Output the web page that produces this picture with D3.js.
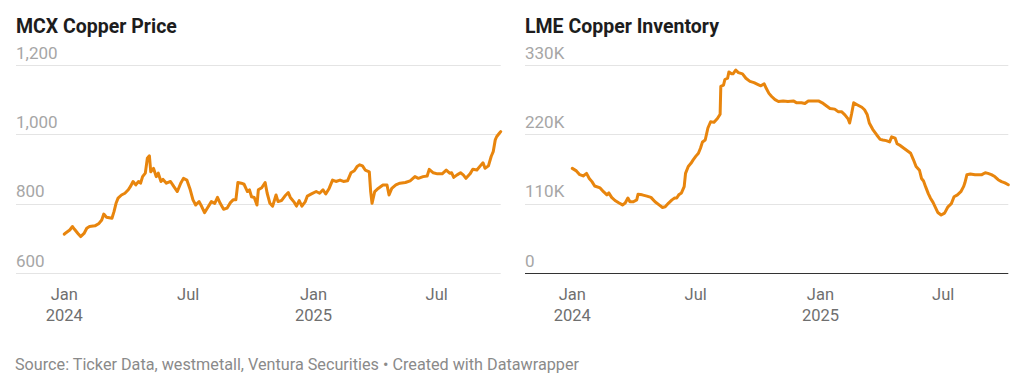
<!doctype html>
<html>
  <head>
    <meta charset="utf-8">
    <script src="https://cdnjs.cloudflare.com/ajax/libs/d3/7.8.5/d3.min.js"></script>
    <style>
      body { margin: 0; background: #fff; font-family: Roboto, "Noto Sans", sans-serif; }
      svg { display: block; }
      .title { font-weight: 700; font-size: 19.5px; fill: #1d1d1d; }
      .ylab { font-size: 17px; fill: #a6a6a6; }
      .xlab { font-size: 16.5px; fill: #6f6f6f; }
      .grid { stroke: #e4e4e4; stroke-width: 1; }
      .note { font-size: 16.2px; fill: #8a8a8a; }
    </style>
  </head>
  <body>
    <svg id="chart" width="1024" height="389"></svg>
    <script>
      // MCX copper price (Rs/kg)
      let mcxDates = ["2024-01-01","2024-01-02","2024-01-09","2024-01-13","2024-01-16","2024-01-21","2024-01-25","2024-01-30","2024-02-03","2024-02-07","2024-02-15","2024-02-21","2024-02-25","2024-02-28","2024-03-03","2024-03-11","2024-03-14","2024-03-17","2024-03-20","2024-03-25","2024-03-30","2024-04-04","2024-04-07","2024-04-11","2024-04-15","2024-04-19","2024-04-22","2024-04-25","2024-04-29","2024-05-02","2024-05-05","2024-05-07","2024-05-11","2024-05-15","2024-05-18","2024-05-22","2024-05-25","2024-05-30","2024-06-05","2024-06-10","2024-06-15","2024-06-20","2024-06-24","2024-06-29","2024-07-04","2024-07-08","2024-07-12","2024-07-17","2024-07-21","2024-07-25","2024-07-29","2024-08-04","2024-08-09","2024-08-13","2024-08-17","2024-08-22","2024-08-27","2024-09-01","2024-09-05","2024-09-09","2024-09-12","2024-09-17","2024-09-21","2024-09-26","2024-09-29","2024-10-02","2024-10-06","2024-10-10","2024-10-12","2024-10-17","2024-10-22","2024-10-25","2024-10-29","2024-11-02","2024-11-07","2024-11-10","2024-11-15","2024-11-20","2024-11-25","2024-11-28","2024-12-03","2024-12-07","2024-12-11","2024-12-15","2024-12-20","2024-12-23","2024-12-29","2025-01-05","2025-01-10","2025-01-15","2025-01-19","2025-01-24","2025-01-29","2025-02-03","2025-02-09","2025-02-14","2025-02-20","2025-02-25","2025-03-02","2025-03-06","2025-03-10","2025-03-14","2025-03-18","2025-03-24","2025-03-26","2025-03-28","2025-04-01","2025-04-06","2025-04-13","2025-04-19","2025-04-22","2025-04-26","2025-05-02","2025-05-08","2025-05-16","2025-05-23","2025-05-30","2025-06-04","2025-06-11","2025-06-17","2025-06-20","2025-06-26","2025-07-02","2025-07-09","2025-07-15","2025-07-20","2025-07-23","2025-07-26","2025-07-31","2025-08-05","2025-08-09","2025-08-13","2025-08-19","2025-08-23","2025-08-29","2025-09-03","2025-09-07","2025-09-10","2025-09-15","2025-09-19","2025-09-22","2025-09-25","2025-09-27","2025-10-01","2025-10-03"];
      let mcxValues = [712,714,724,734,726,714,705,714,729,734,736,743,753,770,761,758,777,801,816,825,830,840,849,864,854,864,859,878,888,931,938,892,902,878,888,864,870,859,864,849,835,859,873,868,840,811,796,806,791,774,787,806,801,818,801,784,787,803,811,811,861,859,856,835,840,820,818,796,840,846,861,830,801,793,825,806,809,822,832,818,806,793,809,793,806,822,828,835,830,840,828,844,868,864,868,864,866,889,895,907,912,909,897,892,835,801,835,844,854,854,825,844,854,859,861,866,878,873,878,880,899,889,886,886,897,888,889,876,883,889,883,873,886,899,897,909,918,902,909,936,950,984,993,1003,1008];

      // LME copper inventory (tonnes)
      let lmeDates = ["2024-01-01","2024-01-07","2024-01-12","2024-01-17","2024-01-22","2024-01-26","2024-01-30","2024-02-03","2024-02-11","2024-02-16","2024-02-21","2024-02-24","2024-02-28","2024-03-04","2024-03-10","2024-03-15","2024-03-19","2024-03-23","2024-03-26","2024-03-31","2024-04-05","2024-04-07","2024-04-13","2024-04-20","2024-04-26","2024-05-02","2024-05-08","2024-05-13","2024-05-17","2024-05-22","2024-05-27","2024-05-31","2024-06-03","2024-06-06","2024-06-10","2024-06-14","2024-06-16","2024-06-20","2024-06-24","2024-06-27","2024-07-01","2024-07-05","2024-07-08","2024-07-11","2024-07-15","2024-07-19","2024-07-23","2024-07-28","2024-08-02","2024-08-06","2024-08-07","2024-08-11","2024-08-13","2024-08-17","2024-08-19","2024-08-23","2024-08-25","2024-08-29","2024-09-02","2024-09-08","2024-09-13","2024-09-19","2024-09-25","2024-10-01","2024-10-05","2024-10-10","2024-10-13","2024-10-17","2024-10-21","2024-10-26","2024-10-31","2024-11-07","2024-11-14","2024-11-22","2024-11-27","2024-12-04","2024-12-09","2024-12-14","2024-12-21","2024-12-29","2025-01-05","2025-01-10","2025-01-15","2025-01-22","2025-01-27","2025-02-01","2025-02-06","2025-02-11","2025-02-13","2025-02-16","2025-02-19","2025-02-24","2025-03-03","2025-03-07","2025-03-11","2025-03-14","2025-03-19","2025-03-25","2025-03-30","2025-04-03","2025-04-08","2025-04-13","2025-04-16","2025-04-21","2025-04-24","2025-04-29","2025-05-04","2025-05-09","2025-05-14","2025-05-18","2025-05-22","2025-05-27","2025-05-30","2025-06-02","2025-06-05","2025-06-09","2025-06-12","2025-06-16","2025-06-20","2025-06-23","2025-06-28","2025-07-03","2025-07-08","2025-07-13","2025-07-17","2025-07-22","2025-07-27","2025-07-31","2025-08-02","2025-08-05","2025-08-10","2025-08-17","2025-08-22","2025-08-27","2025-09-01","2025-09-05","2025-09-10","2025-09-15","2025-09-20","2025-09-25","2025-09-30","2025-10-05"];
      let lmeValues = [166,162,156,154,158,150,145,138,135,129,124,127,120,115,111,108,111,119,113,113,116,125,124,122,120,113,108,104,105,111,116,119,119,124,127,137,158,169,174,179,185,190,198,208,211,230,240,239,245,252,296,298,307,309,319,316,316,322,318,316,309,304,302,299,297,300,293,285,280,275,272,273,272,273,270,270,269,273,273,273,269,265,261,260,256,256,251,244,238,253,270,267,263,259,251,238,228,219,212,211,210,208,216,214,205,202,198,194,190,180,169,163,150,146,137,126,119,112,103,96,92,95,105,110,121,124,129,137,143,156,157,156,156,156,159,158,156,153,148,145,143,140].map(v => v * 1000);

      let mcxTicks = [600, 800, 1000, 1200];
      let lmeTicks = [0, 110000, 220000, 330000];
      let xTickDates = ["2024-01-01", "2024-07-01", "2025-01-01", "2025-07-01"];
      let xTickLabels = [["Jan", "2024"], ["Jul"], ["Jan", "2025"], ["Jul"]];

      var parse = d3.timeParse("%Y-%m-%d");
      var svg = d3.select("#chart");

      function drawPanel(opt) {
        var g = svg.append("g");
        var dates = opt.dates.map(parse);

        var x = d3.scaleTime()
          .domain(d3.extent(dates))
          .range([opt.x0, opt.x1]);
        var y = d3.scaleLinear()
          .domain(d3.extent(opt.ticks))
          .range([273, 65]);

        g.append("text")
          .attr("class", "title")
          .attr("x", opt.left)
          .attr("y", 33)
          .text(opt.title);

        // gridlines + labels sitting above them
        opt.ticks.forEach(t => {
          g.append("line")
            .attr("class", "grid")
            .attr("x1", opt.left).attr("x2", opt.x1)
            .attr("y1", Math.round(y(t)) + 0.5).attr("y2", Math.round(y(t)) + 0.5)
            .style("stroke", (opt.zeroLine && t == 0) ? "#333" : null);
          g.append("text")
            .attr("class", "ylab")
            .attr("x", opt.left)
            .attr("y", y(t) - 6.5)
            .text(opt.fmt(t));
        });

        xTickDates.forEach((d, i) => {
          var t = g.append("text")
            .attr("class", "xlab")
            .attr("text-anchor", "middle")
            .attr("x", x(parse(d)))
            .attr("y", 299.5);
          xTickLabels[i].forEach((s, j) => {
            t.append("tspan")
              .attr("x", x(parse(d)))
              .attr("dy", j == 0 ? 0 : 21.5)
              .text(s);
          });
        });

        var line = d3.line()
          .x((d, i) => x(dates[i]))
          .y(d => y(d));

        g.append("path")
          .datum(opt.values)
          .attr("d", line)
          .attr("fill", "none")
          .attr("stroke", "#e8850d")
          .attr("stroke-width", 3)
          .attr("stroke-linejoin", "round")
          .attr("stroke-linecap", "round");
      }

      drawPanel({
        title: "MCX Copper Price",
        dates: mcxDates, values: mcxValues, ticks: mcxTicks,
        left: 16, x0: 64.3, x1: 500.7,
        fmt: d3.format(",")
      });

      drawPanel({
        title: "LME Copper Inventory",
        dates: lmeDates, values: lmeValues, ticks: lmeTicks,
        left: 525, x0: 572.3, x1: 1008.3, zeroLine: true,
        fmt: v => v == 0 ? "0" : (v / 1000) + "K"
      });

      svg.append("text")
        .attr("class", "note")
        .attr("x", 15)
        .attr("y", 370)
        .text("Source: Ticker Data, westmetall, Ventura Securities \u2022 Created with Datawrapper");
    </script>
  </body>
</html>
